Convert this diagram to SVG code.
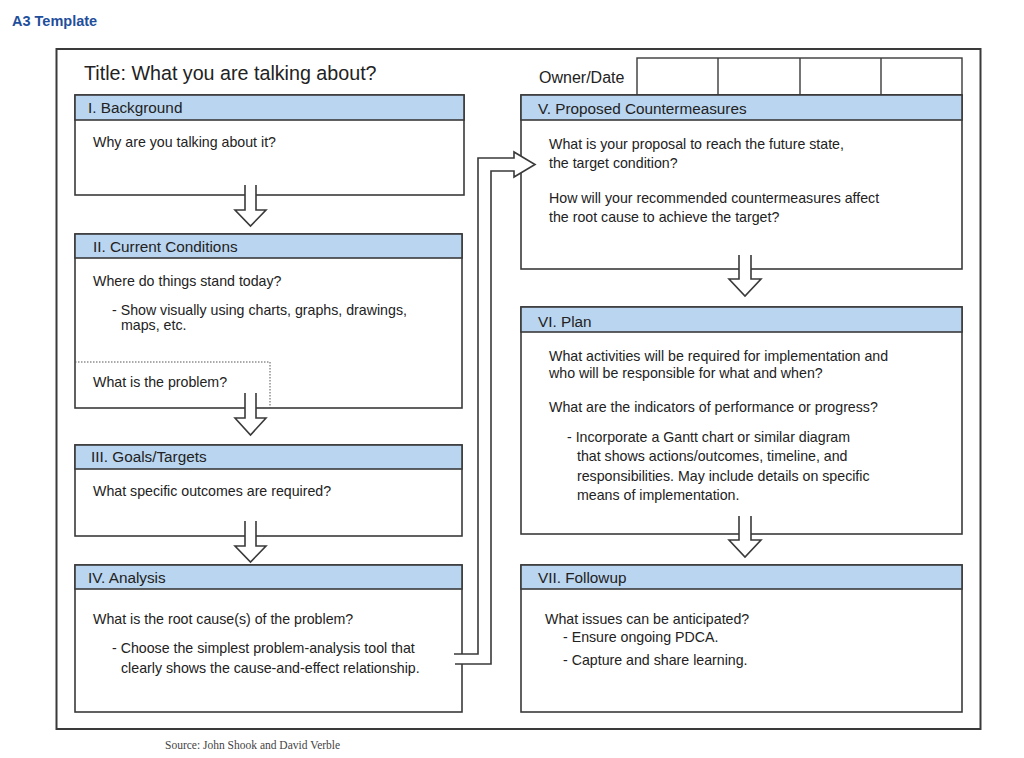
<svg xmlns="http://www.w3.org/2000/svg" width="1024" height="758" viewBox="0 0 1024 758">
<style>
.box{fill:#fff;stroke:#3a3a3a;stroke-width:1.6}
.hdr{fill:#bad5ef;stroke:#3a3a3a;stroke-width:1.6}
.t{font-family:"Liberation Sans",Arial,sans-serif;font-size:14.2px;fill:#222}
.h{font-family:"Liberation Sans",Arial,sans-serif;font-size:15.3px;fill:#222}
.arr{fill:#fff;stroke:#3a3a3a;stroke-width:1.6;stroke-linejoin:miter}
.wf{fill:#fff;stroke:none}
</style>
<rect width="1024" height="758" fill="#fff"/>
<text x="12" y="26" font-family="Liberation Sans,Arial,sans-serif" font-size="14.5" font-weight="bold" fill="#1f4f9c">A3 Template</text>
<rect x="56.5" y="49" width="924" height="680" fill="none" stroke="#3a3a3a" stroke-width="2"/>
<text x="84" y="80" font-family="Liberation Sans,Arial,sans-serif" font-size="19.7" fill="#222">Title: What you are talking about?</text>

<g id="owner">
<text class="t" x="539" y="83" style="font-size:16px">Owner/Date</text>
<rect x="637" y="58" width="325" height="37" fill="#fff" stroke="#3a3a3a" stroke-width="1.4"/>
<line x1="718" y1="58" x2="718" y2="95" stroke="#3a3a3a" stroke-width="1.4"/>
<line x1="800" y1="58" x2="800" y2="95" stroke="#3a3a3a" stroke-width="1.4"/>
<line x1="881" y1="58" x2="881" y2="95" stroke="#3a3a3a" stroke-width="1.4"/>
</g>

<g id="background">
<rect class="box" x="75" y="95" width="389" height="100"/>
<rect class="hdr" x="75" y="95" width="389" height="25"/>
<text class="h" x="88" y="113">I. Background</text>
<text class="t" x="93" y="147">Why are you talking about it?</text>
</g>

<g id="current">
<rect class="box" x="75" y="234" width="387" height="174"/>
<rect class="hdr" x="75" y="234" width="387" height="24"/>
<text class="h" x="93" y="252">II. Current Conditions</text>
<text class="t" x="93" y="286">Where do things stand today?</text>
<text class="t" x="112" y="315">- Show visually using charts, graphs, drawings,</text>
<text class="t" x="121" y="330">maps, etc.</text>
<path d="M75 362 H270 V408" fill="none" stroke="#555" stroke-width="1" stroke-dasharray="1.5 1.5"/>
<text class="t" x="93" y="387">What is the problem?</text>
</g>

<g id="goals">
<rect class="box" x="75" y="445" width="387" height="91"/>
<rect class="hdr" x="75" y="445" width="387" height="24"/>
<text class="h" x="91" y="462">III. Goals/Targets</text>
<text class="t" x="93" y="496">What specific outcomes are required?</text>
</g>

<g id="analysis">
<rect class="box" x="75" y="565" width="387" height="147"/>
<rect class="hdr" x="75" y="565" width="387" height="24"/>
<text class="h" x="88" y="583">IV. Analysis</text>
<text class="t" x="93" y="624">What is the root cause(s) of the problem?</text>
<text class="t" x="112" y="653">- Choose the simplest problem-analysis tool that</text>
<text class="t" x="121" y="673">clearly shows the cause-and-effect relationship.</text>
</g>

<g id="countermeasures">
<rect class="box" x="521" y="95" width="441" height="174"/>
<rect class="hdr" x="521" y="95" width="441" height="25"/>
<text class="h" x="538" y="114">V. Proposed  Countermeasures</text>
<text class="t" x="549" y="149">What is your proposal to reach the future state,</text>
<text class="t" x="549" y="168">the target condition?</text>
<text class="t" x="549" y="203">How will your recommended countermeasures affect</text>
<text class="t" x="549" y="222">the root cause to achieve the target?</text>
</g>

<g id="plan">
<rect class="box" x="521" y="307" width="441" height="227"/>
<rect class="hdr" x="521" y="307" width="441" height="25"/>
<text class="h" x="538" y="327">VI. Plan</text>
<text class="t" x="549" y="361">What activities will be required for implementation and</text>
<text class="t" x="549" y="378">who will be responsible for what and when?</text>
<text class="t" x="549" y="412">What are the indicators of performance or progress?</text>
<text class="t" x="567" y="442">- Incorporate a Gantt chart or similar diagram</text>
<text class="t" x="577" y="461">that shows actions/outcomes, timeline, and</text>
<text class="t" x="577" y="481">responsibilities. May include details on specific</text>
<text class="t" x="577" y="500">means of implementation.</text>
</g>

<g id="followup">
<rect class="box" x="521" y="565" width="441" height="147"/>
<rect class="hdr" x="521" y="565" width="441" height="24"/>
<text class="h" x="538" y="583">VII. Followup</text>
<text class="t" x="545" y="624">What issues can be anticipated?</text>
<text class="t" x="563" y="642">- Ensure ongoing PDCA.</text>
<text class="t" x="563" y="665">- Capture and share learning.</text>
</g>

<g id="connectors">
<path class="arr" d="M245 185 V210 H235 L250.5 226 L266 210 H256 V185"/>
<path class="arr" d="M245 393 V418 H235 L250.5 435 L266 418 H256 V393"/>
<path class="arr" d="M245 521 V546 H235 L250.5 562 L266 546 H256 V521"/>
<path class="arr" d="M739 255 V279 H729 L745 296 L761 279 H751 V255"/>
<path class="arr" d="M739 516 V540 H729 L745 557 L761 540 H751 V516"/>
<path class="wf" d="M454 654 H478 V158 H514 V152 L535 164.5 L514 177 V171 H491 V664 H454 Z"/>
<path d="M454 654 H478 V158 H514 V152 L535 164.5 L514 177 V171 H491 V664 H455" fill="none" stroke="#3a3a3a" stroke-width="1.6"/>
</g>
<text x="165" y="749" font-family="Liberation Serif,serif" font-size="11.5" fill="#444">Source: John Shook and David Verble</text>
</svg>
